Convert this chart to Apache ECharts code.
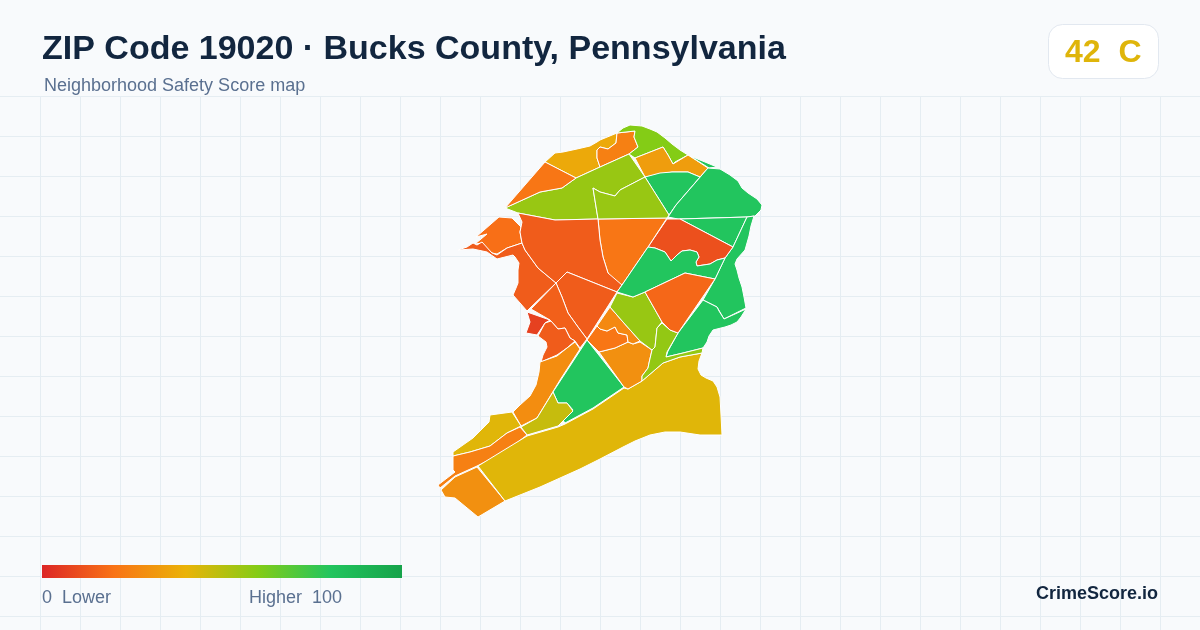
<!DOCTYPE html>
<html>
<head>
    <meta charset="utf-8"/>
    <title>ZIP Code 19020</title>
    <script src="https://cdn.jsdelivr.net/npm/echarts@6/dist/echarts.min.js"></script>
    <style>
        html, body { margin: 0; padding: 0; background: #f8fafc; }
    </style>
</head>
<body>

<div id="main" style="width: 1200px;height:630px;"></div>

<script>
    // tract names, scores and outlines, same order in all three
    var tractNames = ['A','O2','T1','B','sliver','C','D','E','G','H','F','I','J1','J2','K','L','M','N','P','Q','R','S','T','U','V','W','X','Y','Z','AA','AB','AC','AD','AE','AF','AG'];
    var tractScores = [37, 24, 60, 33, 80, 80, 80, 80, 80, 80, 11, 21, 56, 56, 21, 19, 14, 14, 14, 15, 7, 14, 28, 80, 47, 42, 24, 29, 42, 29, 21, 27, 56, 57, 80, 17];
    var tractOutlines = [
        [[545,162],[555,153],[563,152],[577,149],[590,146],[597,142],[600,140],[617,133],[616,143],[608,149],[600,147],[597,150],[597,158],[600,167],[576,178]],
        [[597,150],[600,147],[608,149],[616,143],[617,133],[635,131],[634,137],[638,147],[629,154],[600,167],[597,158]],
        [[617,133],[623,128],[630,125],[642,126],[650,129],[657,132],[665,138],[672,144],[680,150],[688,155],[675,162],[673,164],[668,155],[663,147],[635,158],[629,154],[638,147],[634,137],[635,131]],
        [[635,158],[663,147],[668,155],[673,164],[688,155],[708,168],[700,177],[688,172],[672,172],[645,177]],
        [[690,156],[705,162],[717,167],[709,168]],
        [[645,177],[660,173],[672,172],[688,172],[700,177],[676,205],[669,215]],
        [[708,168],[720,169],[730,175],[738,181],[742,188],[748,193],[757,199],[762,205],[761,210],[755,216],[747,217],[678,219],[668,217],[676,205]],
        [[680,219],[747,217],[733,247]],
        [[747,217],[754,216],[751,226],[749,236],[747,243],[745,250],[737,259],[735,264],[737,270],[739,278],[742,287],[744,297],[746,308],[724,319],[717,307],[703,300],[715,279],[725,258],[733,247]],
        [[703,300],[717,307],[719,311],[724,319],[746,309],[741,317],[737,322],[731,325],[725,327],[717,329],[713,330],[709,336],[707,342],[703,348],[683,353],[666,357],[668,351],[678,333]],
        [[667,219],[680,219],[733,247],[725,258],[717,260],[710,264],[697,266],[696,262],[699,257],[697,252],[690,250],[682,251],[677,255],[671,261],[667,255],[665,252],[655,248],[648,247]],
        [[598,219],[667,218],[648,247],[622,285],[617,291],[608,273],[603,257],[600,240]],
        [[505,208],[540,192],[562,188],[576,178],[600,167],[629,154],[645,177],[620,190],[615,196],[600,192],[593,188],[598,219],[555,220],[518,213]],
        [[593,188],[600,192],[615,196],[620,190],[645,177],[669,215],[667,218],[598,219]],
        [[545,162],[576,178],[562,188],[540,192],[505,208]],
        [[499,217],[512,218],[521,227],[520,232],[522,243],[507,248],[497,254],[492,253],[482,243],[475,244],[487,234],[476,237]],
        [[458,250],[467,247],[473,243],[477,245],[482,242],[492,253],[497,255],[507,248],[522,243],[525,250],[538,268],[556,283],[530,308],[527,311],[513,295],[516,288],[518,283],[518,270],[519,263],[515,257],[513,255],[497,259],[487,252],[473,249]],
        [[518,213],[555,220],[598,219],[600,240],[603,257],[608,273],[622,285],[617,292],[567,272],[556,283],[538,268],[525,250],[522,243],[520,232],[522,222]],
        [[567,272],[617,292],[587,339],[578,327],[568,313],[562,297],[556,283]],
        [[556,283],[562,297],[568,313],[578,327],[587,339],[580,348],[575,341],[570,338],[565,328],[558,329],[550,320],[531,309]],
        [[527,312],[550,320],[545,323],[537,335],[526,333],[530,322]],
        [[551,321],[558,329],[565,328],[570,338],[575,341],[567,348],[557,355],[541,362],[543,355],[547,347],[546,342],[538,336],[545,323]],
        [[540,362],[557,356],[567,348],[575,342],[580,349],[560,380],[537,418],[521,426],[513,412],[520,405],[530,396],[536,385],[539,372]],
        [[587,340],[624,387],[593,408],[565,423],[560,416],[573,410],[567,403],[558,403],[553,392]],
        [[553,392],[558,403],[567,403],[573,411],[561,423],[558,426],[527,435],[521,427],[537,418]],
        [[490,415],[512,412],[521,426],[507,433],[490,446],[470,452],[453,456],[453,452],[473,438],[489,422]],
        [[453,456],[470,452],[490,446],[507,433],[520,427],[527,435],[505,452],[477,466],[455,476],[440,488],[438,485],[455,472],[453,470]],
        [[477,467],[505,501],[478,517],[455,498],[445,497],[441,490],[455,477]],
        [[478,466],[527,436],[558,427],[565,424],[593,409],[624,388],[628,389],[642,381],[663,363],[680,357],[702,353],[699,361],[698,369],[701,375],[706,378],[713,381],[717,387],[720,397],[721,415],[722,435],[700,435],[680,432],[665,432],[650,435],[635,441],[623,447],[600,459],[580,469],[560,478],[540,487],[505,501]],
        [[599,352],[615,348],[628,342],[633,344],[640,342],[652,350],[649,363],[648,368],[642,376],[642,381],[628,389],[624,387]],
        [[597,326],[600,329],[607,331],[615,327],[618,333],[627,335],[628,342],[615,348],[599,352],[587,340]],
        [[610,307],[623,322],[640,341],[633,344],[628,342],[627,335],[618,333],[615,327],[607,331],[600,329],[597,326]],
        [[617,293],[633,297],[645,292],[662,322],[657,328],[655,347],[652,350],[640,341],[623,322],[610,307]],
        [[662,323],[670,330],[678,333],[667,352],[666,357],[683,353],[703,348],[702,353],[680,357],[663,363],[642,381],[642,376],[648,368],[649,363],[652,350],[655,347],[657,328]],
        [[648,247],[655,248],[665,252],[667,255],[671,261],[677,255],[682,251],[690,250],[697,252],[699,257],[696,262],[697,266],[710,264],[717,260],[725,258],[715,279],[685,273],[645,292],[633,297],[617,292],[622,285]],
        [[645,292],[685,273],[715,279],[678,333],[670,330],[662,322]]
    ];
    var scaleColors = ['#dc2626', '#f97316', '#eab308', '#84cc16', '#22c55e', '#16a34a'];
    var overallScore = '42  C';

    var features = tractNames.map(function (name, i) {
        // outlines were read in picture pixels, y runs down
        var ring = tractOutlines[i].map(function (p) { return [p[0], -p[1]]; });
        ring.push(ring[0]);
        return {
            type: 'Feature',
            properties: { name: name },
            geometry: { type: 'Polygon', coordinates: [ring] }
        };
    });
    echarts.registerMap('zip19020', { type: 'FeatureCollection', features: features });

    var font = '"Liberation Sans", Arial, sans-serif';
    var elements = [];

    // background grid
    var gridTop = 96;
    for (var x = 40; x < 1200; x += 40) {
        elements.push({ type: 'line', z: -10, shape: { x1: x + 0.5, y1: gridTop, x2: x + 0.5, y2: 630 }, style: { stroke: '#e5edf2', lineWidth: 1 } });
    }
    for (var y = gridTop; y < 630; y += 40) {
        elements.push({ type: 'line', z: -10, shape: { x1: 0, y1: y + 0.5, x2: 1200, y2: y + 0.5 }, style: { stroke: '#e5edf2', lineWidth: 1 } });
    }

    function label(text, x, y, size, color, weight) {
        return { type: 'text', z: 20, x: x, y: y, style: { text: text, font: (weight || 'normal') + ' ' + size + 'px ' + font, fill: color, textVerticalAlign: 'middle' } };
    }

    elements.push(label('ZIP Code 19020 · Bucks County, Pennsylvania', 42, 50, 34, '#12263f', 'bold'));
    elements.push(label('Neighborhood Safety Score map', 44, 86, 18, '#5a7090'));
    elements.push({ type: 'rect', z: 15, shape: { x: 1048.5, y: 24.5, width: 110, height: 54, r: 14 }, style: { fill: '#fff', stroke: '#e2e8f0', lineWidth: 1 } });
    elements.push(label(overallScore, 1065, 53, 32, '#dfb50a', 'bold'));

    // colour scale, same stops the visualMap uses for the tracts
    elements.push({
        type: 'rect', z: 15,
        shape: { x: 42, y: 565, width: 360, height: 13 },
        style: {
            fill: new echarts.graphic.LinearGradient(0, 0, 1, 0, scaleColors.map(function (c, i) {
                return { offset: i / (scaleColors.length - 1), color: c };
            }))
        }
    });
    elements.push(label('0  Lower', 42, 598, 18, '#5a7090'));
    elements.push(label('Higher  100', 249, 598, 18, '#5a7090'));
    elements.push(label('CrimeScore.io', 1036, 594, 18, '#12263f', 'bold'));

    var myChart = echarts.init(document.getElementById('main'));

    var option = {
        animation: false,
        backgroundColor: '#f8fafc',
        graphic: { elements: elements },
        visualMap: {
            type: 'continuous',
            show: false,
            min: 0,
            max: 100,
            inRange: { color: scaleColors }
        },
        series: [{
            type: 'map',
            map: 'zip19020',
            aspectScale: 1,
            layoutCenter: [600, 321],
            layoutSize: 392,
            silent: true,
            label: { show: false },
            emphasis: { disabled: true },
            itemStyle: { borderColor: '#ffffff', borderWidth: 1 },
            data: tractNames.map(function (name, i) {
                return { name: name, value: tractScores[i] };
            })
        }]
    };

    myChart.setOption(option);
</script>

</body>
</html>
